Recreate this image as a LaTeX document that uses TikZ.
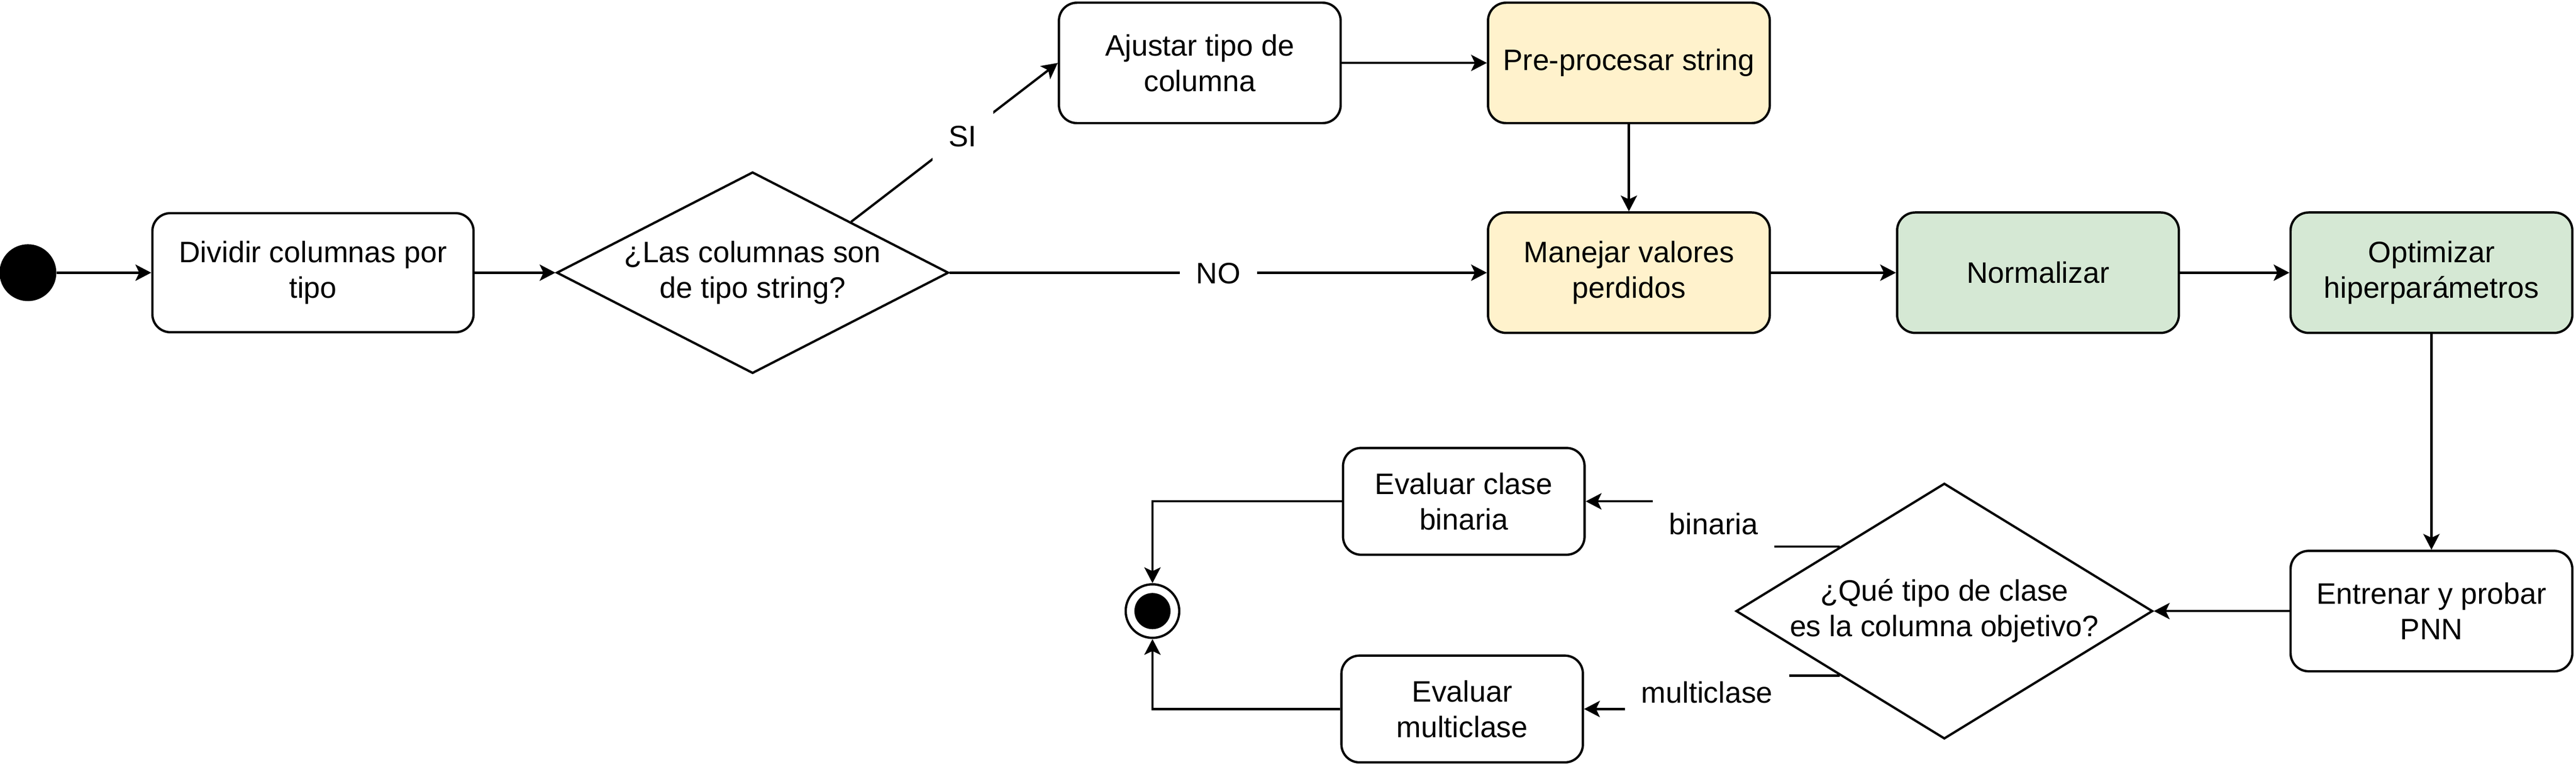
\documentclass[tikz,border=0pt]{standalone}
\usepackage{fontspec}
\setmainfont{Liberation Sans}
\usetikzlibrary{positioning, shapes.geometric, arrows.meta}
\definecolor{prepcol}{RGB}{255,242,204}
\definecolor{modelcol}{RGB}{213,232,212}

\begin{document}
\begin{tikzpicture}[
	node distance=200pt,
	on grid,
	font=\fontsize{18pt}{21.6pt}\selectfont,
	activity/.style={
		draw,
		rectangle,
		rounded corners=11pt,
		align=center,
		line width=1.4pt,
		minimum width=171.5pt,
		minimum height=73.3pt,
		fill=white
	},
	evalbox/.style={
		minimum width=147pt,
		minimum height=65pt
	},
	decision/.style={
		draw,
		diamond,
		align=center,
		line width=1.4pt,
		inner sep=-30pt,
		fill=white
	},
	startnode/.style={
		circle,
		fill=black,
		inner sep=0pt,
		minimum size=34.6pt
	},
	endnode/.style={
		circle,
		draw,
		line width=1.4pt,
		inner sep=0pt,
		minimum size=32.6pt,
		fill=white,
		path picture={\fill[black] (path picture bounding box.center) circle (11pt);}
	},
	lbl/.style={
		fill=white,
		inner xsep=10pt,
		inner ysep=8.5pt,
		text height=13pt,
		text depth=0pt
	},
	flow/.style={
		draw,
		line width=1.4pt,
		-{Stealth[length=9.6pt,width=9.9pt,inset=2.3pt]}
	},
	every edge/.style={flow}
	]
	\useasboundingbox (0,0) rectangle (1568pt,-465.5pt);
	
	% Nodos
	\node[startnode] (inicio) at (17pt,-166pt) {};
	\node[activity, minimum width=195.5pt, minimum height=72.5pt] (dividir) [right=173.5pt of inicio] {Dividir columnas por\\tipo};
	\node[decision, minimum width=238.6pt, minimum height=122.6pt] (esstring) [right=267.6pt of dividir] {¿Las columnas son\\de tipo string?};
	\node[activity] (ajustar) [above right=127.7pt and 272.2pt of esstring] {Ajustar tipo de\\columna};
	\node[activity, fill=prepcol] (preproc) [right=261.2pt of ajustar] {Pre-procesar string};
	\node[activity, fill=prepcol] (manejar) [below=127.7pt of preproc] {Manejar valores\\perdidos};
	\node[activity, fill=modelcol] (normalizar) [right=249pt of manejar] {Normalizar};
	\node[activity, fill=modelcol] (optimizar) [right=239.5pt of normalizar] {Optimizar\\hiperparámetros};
	\node[activity] (entrenar) [below=206pt of optimizar] {Entrenar y probar\\PNN};
	\node[decision, minimum width=253.6pt, minimum height=155.6pt] (tipoclase) [left=296.5pt of entrenar] {¿Qué tipo de clase\\es la columna objetivo?};
	\node[endnode] (fin) [left=482pt of tipoclase] {};
	\node[activity, evalbox] (binaria) [above right=66.8pt and 189.5pt of fin] {Evaluar clase\\binaria};
	\node[activity, evalbox] (multiclase) [below right=59.6pt and 188.5pt of fin] {Evaluar\\multiclase};
	
	% Flujo
	\path
	(inicio) edge (dividir)
	(dividir) edge (esstring)
	(esstring.north east) edge node[lbl, pos=0.54] {SI} (ajustar.west)
	(esstring) edge node[lbl] {NO} (manejar)
	(ajustar) edge (preproc)
	(preproc) edge (manejar)
	(manejar) edge (normalizar)
	(normalizar) edge (optimizar)
	(optimizar) edge (entrenar)
	(entrenar) edge (tipoclase);
	\draw[flow] (tipoclase.north west) -- ++(-76.75pt,0) |- node[lbl, pos=0.25] {binaria} (binaria.east);
	\draw[flow] (tipoclase.south west) -- ++(-80.75pt,0) |- node[lbl, pos=0.25] {multiclase} (multiclase.east);
	\draw[flow] (binaria) -| (fin);
	\draw[flow] (multiclase) -| (fin);
\end{tikzpicture}
\end{document}
